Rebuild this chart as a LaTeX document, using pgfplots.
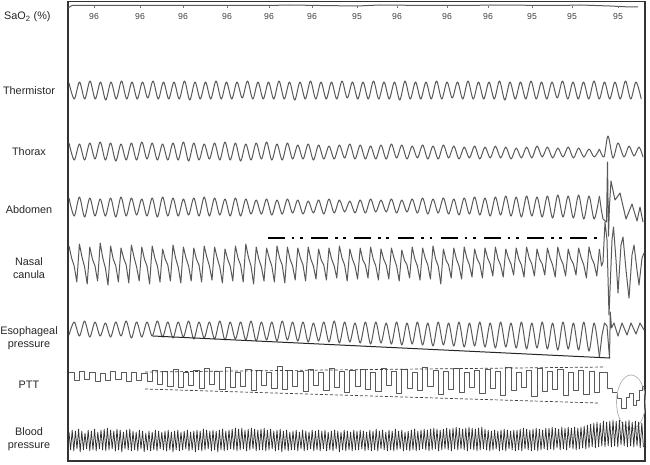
\documentclass[border=0pt]{standalone}
\usepackage{pgfplots}
\pgfplotsset{compat=1.18}
\usepackage{fontspec}
\setmainfont{Liberation Sans}
\begin{document}
\begin{tikzpicture}[
  trace/.style={black!65, line width=1bp, line join=round},
  lbl/.style={font=\fontsize{10.9}{13}\selectfont, align=center, inner sep=0pt, text=black!85},
  num/.style={font=\fontsize{8.7}{10}\selectfont, inner sep=0pt, text=black!75}]
\begin{axis}[scale only axis, width=650bp, height=464bp,
  xmin=0, xmax=650, ymin=0, ymax=464, y dir=reverse, hide axis, clip=false]
\path (axis cs:0,0) rectangle (axis cs:650,464);
\draw[black!80, line width=1.3bp] (axis cs:68,1.5) rectangle (axis cs:645,461);

% labels
\node[lbl, anchor=west] at (axis cs:4,17) {SaO\textsubscript{2} (\%)};
\node[lbl] at (axis cs:29,91) {Thermistor};
\node[lbl] at (axis cs:29,152) {Thorax};
\node[lbl] at (axis cs:29,210) {Abdomen};
\node[lbl] at (axis cs:29,268.5) {Nasal\\canula};
\node[lbl] at (axis cs:29,338.5) {Esophageal\\pressure};
\node[lbl] at (axis cs:29,385) {PTT};
\node[lbl] at (axis cs:29,439) {Blood\\pressure};

% SaO2
\addplot[trace, line width=1bp] coordinates {(68,8) (72,5.5) (150,5.3) (268,5.5) (290,5) (320,5.5) (357,6) (380,5) (430,5.5) (470,5.5) (490,5) (560,5.5) (580,5) (610,6) (630,7) (638,7)};
\addplot[black!55, only marks, mark=|, mark size=1.2bp] coordinates {(94,7)(140,7)(183,7)(227,7)(269,7)(312,7)(357,7)(397,7)(447,7)(488,7)(532,7)(572,7)(618,7)};
\node[num] at (axis cs:94,17) {96};
\node[num] at (axis cs:140,17) {96};
\node[num] at (axis cs:183,17) {96};
\node[num] at (axis cs:227,17) {96};
\node[num] at (axis cs:269,17) {96};
\node[num] at (axis cs:312,17) {96};
\node[num] at (axis cs:357,17) {95};
\node[num] at (axis cs:397,17) {96};
\node[num] at (axis cs:447,17) {96};
\node[num] at (axis cs:488,17) {96};
\node[num] at (axis cs:532,17) {95};
\node[num] at (axis cs:572,17) {95};
\node[num] at (axis cs:618,17) {95};

% Thermistor
\addplot[trace, smooth] table[header=false, row sep=\\, x expr={69+5.25*\coordindex}, y index=0] {83\\99\\82\\99\\81\\99\\82\\100\\82\\99\\81\\99\\82\\99\\82\\98\\81\\99\\82\\99\\82\\99\\81\\100\\82\\99\\82\\99\\81\\99\\82\\99\\82\\98\\81\\99\\82\\99\\82\\99\\81\\99\\82\\100\\82\\99\\81\\99\\82\\99\\82\\99\\81\\98\\82\\99\\82\\99\\81\\99\\82\\99\\82\\100\\81\\99\\82\\99\\82\\99\\81\\99\\82\\98\\82\\99\\81\\99\\82\\99\\82\\99\\81\\100\\82\\99\\82\\99\\81\\99\\82\\99\\82\\98\\81\\99\\82\\99\\82\\99\\81\\99\\82\\99\\82\\99\\81\\99\\82\\99\\};

% Thorax
\addplot[trace, smooth] table[header=false, row sep=\\, x expr={69+5.2*\coordindex}, y index=0] {143\\160\\144\\160\\143\\159\\142\\160\\143\\161\\144\\160\\143\\160\\142\\159\\143\\160\\144\\160\\143\\160\\142\\161\\143\\160\\144\\159\\143\\160\\142\\160\\143\\161\\144\\160\\143\\159\\142\\160\\144\\160\\143\\159\\145\\159\\144\\160\\145\\159\\146\\159\\145\\158\\144\\159\\145\\159\\146\\159\\145\\159\\144\\158\\145\\159\\146\\158\\145\\159\\146\\159\\145\\158\\146\\159\\147\\158\\146\\159\\147\\158\\146\\158\\147\\159\\148\\158\\147\\158\\146\\157\\147\\158\\148\\157\\147\\158\\148\\157\\149\\157\\149\\};
\addplot[trace, smooth] coordinates {(599.4,149) (604,157) (608,136) (613,158) (618,143) (624,157) (629,146) (634,156) (639,147) (643,157)};

% Abdomen
\addplot[trace, smooth] table[header=false, row sep=\\, x expr={69+5.2*\coordindex}, y index=0] {198\\216\\197\\217\\198\\216\\199\\216\\198\\217\\197\\216\\198\\215\\199\\216\\198\\217\\197\\216\\198\\216\\199\\215\\198\\216\\197\\216\\198\\215\\199\\216\\198\\216\\199\\214\\200\\214\\199\\215\\200\\214\\199\\213\\200\\214\\201\\213\\200\\214\\199\\213\\200\\212\\201\\213\\200\\213\\199\\212\\200\\212\\199\\213\\200\\212\\199\\213\\198\\214\\199\\213\\198\\214\\199\\215\\198\\214\\197\\215\\198\\216\\197\\215\\196\\216\\197\\217\\196\\216\\197\\217\\196\\218\\195\\217\\196\\218\\195\\219\\196\\219\\196\\};
\addplot[trace] coordinates {(599.4,196) (601.5,211) (603,219) (606.5,222) (607.5,162) (608.5,236) (609.5,205) (611,181) (615,200) (620,193) (626,219) (632,204) (637,221) (640,207) (643,222)};

% Nasal canula
\addplot[trace] table[header=false, row sep=\\, x expr={69+2.6*\coordindex}, y index=0] {246\\258\\266\\282\\244\\257\\267\\284\\247\\259\\266\\281\\243\\258\\268\\285\\246\\259\\266\\282\\248\\258\\265\\283\\245\\257\\267\\281\\247\\259\\266\\284\\246\\258\\266\\282\\249\\259\\265\\281\\245\\258\\267\\283\\247\\258\\266\\281\\248\\259\\265\\282\\246\\257\\266\\280\\247\\258\\267\\283\\249\\259\\266\\281\\246\\258\\265\\282\\244\\257\\266\\284\\247\\259\\267\\281\\248\\258\\266\\282\\246\\258\\265\\283\\247\\259\\266\\280\\248\\258\\265\\281\\247\\259\\266\\279\\249\\260\\265\\280\\248\\259\\266\\278\\246\\258\\265\\281\\249\\259\\266\\279\\248\\260\\265\\278\\247\\259\\266\\280\\249\\259\\265\\279\\248\\258\\266\\281\\250\\260\\265\\278\\247\\259\\266\\280\\248\\258\\265\\279\\246\\259\\266\\284\\249\\260\\265\\278\\248\\259\\266\\279\\247\\258\\265\\277\\249\\259\\264\\278\\248\\258\\264\\276\\247\\259\\265\\277\\249\\258\\264\\275\\248\\259\\265\\277\\247\\258\\264\\276\\249\\259\\264\\275\\248\\258\\265\\277\\247\\258\\264\\276\\249\\259\\264\\275\\248\\258\\265\\278\\247\\258\\264\\276\\249\\};
\addplot[trace] coordinates {(599.4,249) (601.5,266) (603,262) (605,222) (607,240) (609,315) (612,240) (613.5,227) (616,260) (618,293) (621,245) (623,237) (626,270) (629,298) (632,255) (634,245) (637,270) (639,285) (642,258) (644,253)};
\addplot[black, line width=2.8bp, dash pattern=on 16.7bp off 7bp on 2.7bp off 5.6bp on 2.7bp off 8.5bp] coordinates {(268,238) (598,238)};

% Esophageal pressure
\addplot[trace, smooth] table[header=false, row sep=\\, x expr={69+5.2*\coordindex}, y index=0] {335\\322\\336\\321\\337\\322\\336\\323\\337\\322\\336\\321\\338\\322\\337\\322\\336\\321\\337\\322\\338\\322\\337\\321\\339\\322\\338\\322\\339\\321\\340\\322\\339\\322\\340\\321\\341\\322\\340\\322\\341\\321\\340\\322\\341\\322\\342\\323\\341\\322\\342\\321\\343\\322\\342\\323\\343\\322\\344\\322\\343\\323\\344\\322\\345\\323\\344\\322\\345\\323\\346\\322\\345\\323\\346\\322\\347\\323\\346\\322\\347\\323\\348\\322\\347\\323\\348\\322\\349\\323\\348\\322\\349\\323\\350\\322\\349\\323\\350\\322\\351\\323\\357\\};
\addplot[trace] coordinates {(599.4,357) (602,335) (604.5,323) (607,326) (609.5,358) (610.3,312) (611.5,328) (614,323) (618,336) (622,323) (627,335) (631,323) (636,334) (640,323) (644,330)};
\addplot[black!85, line width=1bp] coordinates {(153,336) (610,358)};

% PTT
\addplot[trace, line width=0.9bp, const plot] table[header=false, row sep=\\, x expr={69+5.2*\coordindex}, y index=0] {372\\380\\371\\379\\372\\381\\373\\380\\371\\379\\372\\381\\372\\380\\373\\381\\370\\384\\371\\386\\369\\387\\372\\385\\370\\388\\368\\384\\371\\389\\367\\387\\372\\386\\369\\390\\370\\385\\372\\388\\366\\389\\370\\386\\371\\391\\369\\385\\372\\390\\368\\387\\371\\392\\370\\386\\369\\389\\372\\391\\368\\385\\371\\393\\369\\388\\372\\390\\367\\386\\370\\394\\371\\389\\368\\392\\372\\387\\370\\393\\369\\388\\371\\395\\367\\390\\372\\387\\370\\396\\368\\391\\371\\389\\369\\395\\372\\390\\370\\394\\371\\392\\372\\};
\addplot[trace, line width=0.9bp, const plot] coordinates {(599.4,372) (607,388) (612,392) (617,398) (621,408) (626,397) (629,393) (633,405) (636,400) (639,390) (642,386) (644,386)};
\addplot[black!75, line width=0.7bp, dash pattern=on 3bp off 2bp] coordinates {(145,372) (605,367)};
\addplot[black!75, line width=0.7bp, dash pattern=on 3bp off 2bp] coordinates {(145,389) (598,403)};
\draw[black!30, line width=0.7bp] (axis cs:631,402) ellipse [x radius=14.5, y radius=27];

% Blood pressure
\addplot[black!80, line width=0.75bp] table[header=false, row sep=\\, x expr={69+1.6*\coordindex}, y index=0] {432\\450\\430\\451\\431\\449\\429\\452\\431\\450\\433\\449\\430\\451\\431\\450\\429\\451\\432\\449\\430\\450\\429\\451\\428\\450\\430\\449\\431\\451\\429\\450\\430\\452\\432\\449\\430\\450\\429\\451\\431\\450\\432\\451\\430\\449\\431\\452\\433\\450\\431\\451\\432\\450\\430\\451\\431\\449\\432\\450\\431\\451\\430\\450\\432\\452\\431\\450\\430\\451\\432\\450\\431\\449\\430\\451\\432\\450\\431\\452\\430\\450\\431\\451\\429\\450\\430\\449\\431\\451\\430\\450\\431\\452\\430\\450\\429\\451\\431\\450\\430\\449\\429\\450\\428\\451\\429\\450\\428\\449\\430\\451\\429\\450\\428\\449\\429\\451\\430\\450\\429\\450\\428\\451\\430\\450\\429\\449\\431\\451\\430\\450\\429\\452\\431\\450\\430\\451\\432\\450\\431\\450\\430\\451\\432\\449\\430\\451\\431\\450\\432\\449\\430\\451\\431\\450\\430\\451\\431\\449\\430\\451\\432\\450\\431\\451\\430\\449\\431\\452\\432\\450\\430\\451\\431\\450\\432\\451\\430\\450\\431\\450\\430\\449\\431\\451\\432\\450\\430\\451\\431\\450\\429\\451\\431\\449\\430\\450\\432\\451\\430\\450\\431\\451\\429\\450\\431\\449\\430\\451\\432\\450\\431\\451\\430\\450\\429\\451\\431\\450\\430\\449\\429\\450\\430\\451\\429\\450\\428\\449\\429\\451\\430\\450\\429\\449\\428\\450\\429\\451\\428\\449\\427\\450\\428\\449\\429\\450\\428\\451\\427\\449\\428\\450\\429\\451\\428\\450\\427\\449\\429\\450\\430\\451\\431\\450\\430\\449\\431\\451\\430\\450\\429\\451\\430\\449\\431\\450\\430\\451\\430\\450\\429\\451\\428\\449\\429\\450\\430\\451\\429\\450\\428\\451\\429\\450\\430\\449\\428\\450\\428\\449\\427\\450\\428\\448\\429\\450\\427\\449\\428\\450\\427\\448\\428\\449\\427\\450\\428\\449\\427\\448\\426\\449\\425\\448\\424\\447\\423\\448\\422\\447\\423\\446\\421\\447\\422\\446\\421\\447\\420\\446\\421\\447\\420\\445\\422\\446\\421\\447\\420\\446\\422\\447\\421\\446\\422\\448\\423\\447\\};
\end{axis}
\end{tikzpicture}
\end{document}
